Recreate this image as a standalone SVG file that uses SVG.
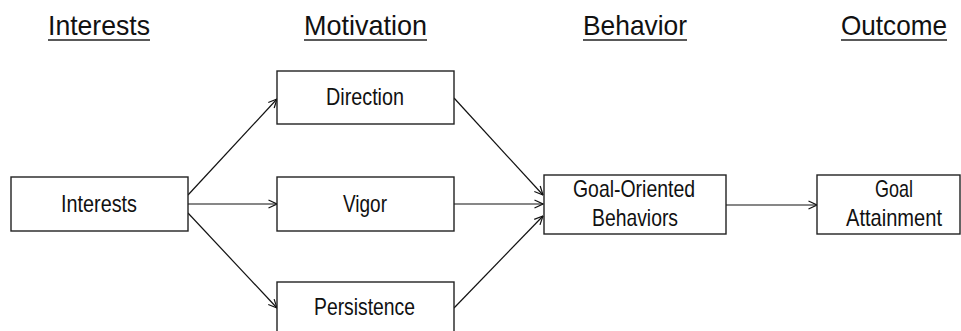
<svg xmlns="http://www.w3.org/2000/svg" width="961" height="331" viewBox="0 0 961 331">
<defs>
<style>
.hdr{font-family:"Liberation Sans",Arial,sans-serif;font-size:28.5px;fill:#111;}
.lbl{font-family:"Liberation Sans",Arial,sans-serif;font-size:24px;fill:#111;}
.box{fill:#fff;stroke:#222;stroke-width:1.4;}
.ul{stroke:#222;stroke-width:1.5;}
.edge{stroke:#111;stroke-width:1.2;fill:none;marker-end:url(#arr);}
</style>
<marker id="arr" viewBox="0 0 10 10" refX="9.5" refY="5" markerWidth="10" markerHeight="10" markerUnits="userSpaceOnUse" orient="auto">
<path d="M1,1 L9.5,5 L1,9" fill="none" stroke="#111" stroke-width="1.2"/>
</marker>
</defs>
<rect width="961" height="331" fill="#fff"/>
<g id="headers">
<text class="hdr" x="48" y="35" textLength="102" lengthAdjust="spacingAndGlyphs">Interests</text>
<line class="ul" x1="48" y1="40" x2="150" y2="40"/>
<text class="hdr" x="304" y="35" textLength="123" lengthAdjust="spacingAndGlyphs">Motivation</text>
<line class="ul" x1="304" y1="40" x2="427" y2="40"/>
<text class="hdr" x="583" y="35" textLength="104" lengthAdjust="spacingAndGlyphs">Behavior</text>
<line class="ul" x1="583" y1="40" x2="687" y2="40"/>
<text class="hdr" x="841" y="35" textLength="106" lengthAdjust="spacingAndGlyphs">Outcome</text>
<line class="ul" x1="841" y1="40" x2="947" y2="40"/>
</g>
<g id="connectors">
<line class="edge" x1="188" y1="195" x2="277" y2="99"/>
<line class="edge" x1="188" y1="204" x2="277" y2="204"/>
<line class="edge" x1="188" y1="213" x2="277" y2="308"/>
<line class="edge" x1="454" y1="98" x2="543" y2="195"/>
<line class="edge" x1="454" y1="204" x2="543" y2="204"/>
<line class="edge" x1="454" y1="308" x2="543" y2="216"/>
<line class="edge" x1="726" y1="205" x2="817" y2="205"/>
</g>
<g id="interests">
<rect class="box" x="11" y="177" width="177" height="54"/>
<text class="lbl" x="61" y="212" textLength="76" lengthAdjust="spacingAndGlyphs">Interests</text>
</g>
<g id="direction">
<rect class="box" x="277" y="71" width="177" height="53"/>
<text class="lbl" x="326" y="105" textLength="78" lengthAdjust="spacingAndGlyphs">Direction</text>
</g>
<g id="vigor">
<rect class="box" x="277" y="177" width="177" height="54"/>
<text class="lbl" x="343" y="212" textLength="44" lengthAdjust="spacingAndGlyphs">Vigor</text>
</g>
<g id="persistence">
<rect class="box" x="277" y="282" width="177" height="54"/>
<text class="lbl" x="314" y="315" textLength="101" lengthAdjust="spacingAndGlyphs">Persistence</text>
</g>
<g id="goal-oriented-behaviors">
<rect class="box" x="544" y="175" width="182" height="59"/>
<text class="lbl" x="573" y="197" textLength="122" lengthAdjust="spacingAndGlyphs">Goal-Oriented</text>
<text class="lbl" x="592" y="226" textLength="86" lengthAdjust="spacingAndGlyphs">Behaviors</text>
</g>
<g id="goal-attainment">
<rect class="box" x="817" y="175" width="143" height="59"/>
<text class="lbl" x="875" y="197" textLength="38" lengthAdjust="spacingAndGlyphs">Goal</text>
<text class="lbl" x="846" y="226" textLength="96" lengthAdjust="spacingAndGlyphs">Attainment</text>
</g>
</svg>
